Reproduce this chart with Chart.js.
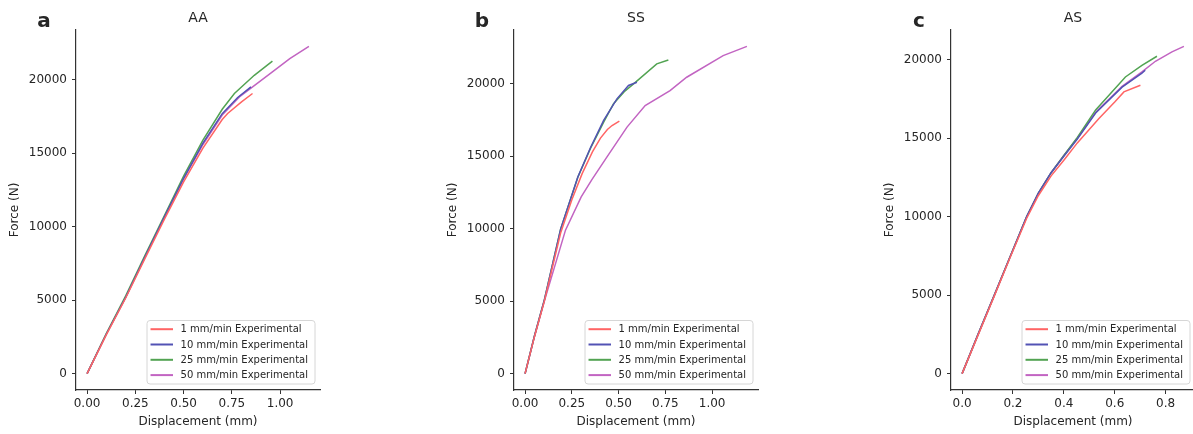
<!DOCTYPE html>
<html lang="en">

<head>
    <meta charset="UTF-8">
    <title>Force vs Displacement</title>
    <style>
        body {
            margin: 0;
            padding: 0;
            width: 1193px;
            height: 434px;
            overflow: hidden;
            background: #ffffff;
            position: relative;
        }

        canvas {
            position: absolute;
            top: 0;
        }
    </style>
</head>

<body>
    <canvas id="chartAA" width="330" height="434" style="left:0px"></canvas>
    <canvas id="chartSS" width="330" height="434" style="left:438px"></canvas>
    <canvas id="chartAS" width="330" height="434" style="left:875px"></canvas>

    <script src="https://cdn.jsdelivr.net/npm/chart.js@4.4.1/dist/chart.umd.min.js"></script>
    <script>
        const seriesLabels = ['1 mm/min Experimental', '10 mm/min Experimental', '25 mm/min Experimental', '50 mm/min Experimental'];
        const seriesColors = ['#ff6464', '#5252b4', '#52a352', '#c264c2'];

        // panel a - AA
        const aaDisp1 = [0, 0.1, 0.2, 0.3, 0.4, 0.5, 0.6, 0.7, 0.728, 0.8, 0.857];
        const aaForce1 = [0, 2650, 5150, 7850, 10500, 13050, 15350, 17300, 17710, 18500, 19070];
        const aaDisp10 = [0, 0.1, 0.2, 0.3, 0.4, 0.5, 0.6, 0.7, 0.78, 0.849];
        const aaForce10 = [0, 2700, 5200, 7950, 10650, 13300, 15700, 17700, 18800, 19520];
        const aaDisp25 = [0, 0.1, 0.2, 0.3, 0.4, 0.5, 0.6, 0.7, 0.763, 0.866, 0.96];
        const aaForce25 = [0, 2750, 5300, 8050, 10750, 13450, 15900, 18000, 19070, 20310, 21280];
        const aaDisp50 = [0, 0.1, 0.2, 0.3, 0.4, 0.5, 0.6, 0.7, 0.789, 0.96, 1.05, 1.149];
        const aaForce50 = [0, 2700, 5200, 7950, 10600, 13250, 15600, 17600, 18840, 20540, 21450, 22280];

        // panel b - SS
        const ssDisp1 = [0, 0.05, 0.103, 0.19, 0.25, 0.305, 0.36, 0.403, 0.44, 0.465, 0.504];
        const ssForce1 = [0, 2550, 5000, 9700, 12000, 13800, 15300, 16250, 16850, 17120, 17420];
        const ssDisp10 = [0, 0.05, 0.103, 0.19, 0.282, 0.35, 0.42, 0.491, 0.553, 0.598];
        const ssForce10 = [0, 2600, 5090, 9970, 13570, 15600, 17470, 18960, 19880, 20100];
        const ssDisp25 = [0, 0.05, 0.103, 0.19, 0.282, 0.35, 0.42, 0.473, 0.53, 0.58, 0.704, 0.766];
        const ssForce25 = [0, 2600, 5090, 9970, 13550, 15550, 17350, 18620, 19450, 19990, 21370, 21640];
        const ssDisp50 = [0, 0.05, 0.103, 0.216, 0.3, 0.358, 0.438, 0.545, 0.642, 0.775, 0.864, 1.059, 1.186];
        const ssForce50 = [0, 2550, 5000, 9900, 12200, 13400, 14950, 17010, 18500, 19530, 20450, 21940, 22580];

        // panel c - AS
        const asDisp1 = [0, 0.064, 0.128, 0.19, 0.254, 0.3, 0.35, 0.4, 0.453, 0.538, 0.6, 0.636, 0.701];
        const asForce1 = [0, 2500, 5000, 7450, 9900, 11350, 12600, 13600, 14700, 16250, 17300, 17950, 18370];
        const asDisp10 = [0, 0.064, 0.128, 0.19, 0.254, 0.3, 0.35, 0.4, 0.453, 0.525, 0.629, 0.707, 0.72];
        const asForce10 = [0, 2550, 5050, 7500, 10000, 11500, 12800, 13850, 14950, 16600, 18250, 19150, 19330];
        const asDisp25 = [0, 0.064, 0.128, 0.19, 0.254, 0.3, 0.35, 0.4, 0.453, 0.525, 0.642, 0.707, 0.766];
        const asForce25 = [0, 2550, 5050, 7500, 10000, 11500, 12800, 13900, 15050, 16800, 18900, 19640, 20220];
        const asDisp50 = [0, 0.064, 0.128, 0.19, 0.254, 0.3, 0.35, 0.4, 0.453, 0.525, 0.629, 0.707, 0.76, 0.825, 0.872];
        const asForce50 = [0, 2550, 5050, 7500, 10000, 11500, 12800, 13900, 15000, 16650, 18300, 19220, 19900, 20500, 20850];

        const xTicksAA = [0, 0.25, 0.5, 0.75, 1.0];
        const xTicksSS = [0, 0.25, 0.5, 0.75, 1.0];
        const xTicksAS = [0, 0.2, 0.4, 0.6, 0.8];
        const yTicks = [0, 5000, 10000, 15000, 20000];

        Chart.defaults.font.family = "'DejaVu Sans', sans-serif";
        const textColor = '#262626';
        const axisColor = '#333333';

        function toPoints(xs, ys) {
            return xs.map((x, i) => ({ x: x, y: ys[i] }));
        }

        // matplotlib style 5% margins
        function paddedRange(arrays) {
            const all = arrays.flat();
            const lo = Math.min(...all), hi = Math.max(...all);
            const pad = (hi - lo) * 0.05;
            return [lo - pad, hi + pad];
        }

        // panel letter, title and the legend in the lower right of the plot area
        const panelDecor = {
            id: 'panelDecor',
            afterDraw(chart, args, opts) {
                const ctx = chart.ctx;
                const area = chart.chartArea;
                ctx.save();
                ctx.fillStyle = textColor;
                ctx.textAlign = 'center';
                ctx.textBaseline = 'alphabetic';
                ctx.font = "bold 20px 'DejaVu Sans'";
                ctx.fillText(opts.letter, area.left - 32, 27);
                ctx.font = "14px 'DejaVu Sans'";
                ctx.fillText(opts.title, (area.left + area.right) / 2, 22);

                ctx.font = "10px 'DejaVu Sans'";
                const sets = chart.data.datasets;
                const textW = Math.max(...sets.map(d => ctx.measureText(d.label).width));
                const boxW = 33.5 + textW + 7;
                const boxH = 63.5;
                const bx = area.right - 5 - boxW;
                const by = area.bottom - 6 - boxH;
                ctx.beginPath();
                ctx.roundRect(bx, by, boxW, boxH, 3);
                ctx.fillStyle = 'rgba(255,255,255,0.8)';
                ctx.fill();
                ctx.strokeStyle = '#d6d6d6';
                ctx.lineWidth = 1;
                ctx.stroke();
                ctx.textAlign = 'left';
                ctx.textBaseline = 'middle';
                sets.forEach((d, i) => {
                    const ry = by + 8.7 + i * 15.3;
                    ctx.beginPath();
                    ctx.moveTo(bx + 3.5, ry);
                    ctx.lineTo(bx + 26, ry);
                    ctx.strokeStyle = d.borderColor;
                    ctx.lineWidth = 2;
                    ctx.stroke();
                    ctx.fillStyle = textColor;
                    ctx.fillText(d.label, bx + 33.5, ry + 0.5);
                });
                ctx.restore();
            }
        };

        function makePanel(id, letter, title, dispArrays, forceArrays, xTicks, decimals) {
            const [xMin, xMax] = paddedRange(dispArrays);
            const [yMin, yMax] = paddedRange(forceArrays);
            const datasets = dispArrays.map((xs, i) => ({
                label: seriesLabels[i],
                data: toPoints(xs, forceArrays[i]),
                borderColor: seriesColors[i],
                borderWidth: 1.5,
                pointRadius: 0,
                tension: 0,
                fill: false
            }));

            new Chart(document.getElementById(id), {
                type: 'line',
                data: { datasets: datasets },
                options: {
                    responsive: false,
                    animation: false,
                    layout: { padding: { top: 30, right: 10, left: 0, bottom: 0 } },
                    plugins: {
                        legend: { display: false },
                        tooltip: { enabled: false },
                        panelDecor: { letter: letter, title: title }
                    },
                    scales: {
                        x: {
                            type: 'linear',
                            min: xMin,
                            max: xMax,
                            afterBuildTicks: s => { s.ticks = xTicks.map(v => ({ value: v })); },
                            afterFit: s => { s.height = 44; },
                            ticks: {
                                callback: v => v.toFixed(decimals),
                                font: { size: 12 },
                                color: textColor,
                                padding: 3,
                                maxRotation: 0,
                                autoSkip: false
                            },
                            grid: { drawOnChartArea: false, drawTicks: true, tickLength: 4, color: axisColor, tickColor: axisColor },
                            border: { display: true, color: axisColor, width: 1.2 },
                            title: {
                                display: true,
                                text: 'Displacement (mm)',
                                font: { size: 12 },
                                color: textColor,
                                padding: { top: 0, bottom: 5 }
                            }
                        },
                        y: {
                            type: 'linear',
                            min: yMin,
                            max: yMax,
                            afterBuildTicks: s => { s.ticks = yTicks.map(v => ({ value: v })); },
                            afterFit: s => { s.width = 76; },
                            ticks: {
                                callback: v => String(v),
                                font: { size: 12 },
                                color: textColor,
                                padding: 5,
                                autoSkip: false
                            },
                            grid: { drawOnChartArea: false, drawTicks: true, tickLength: 4, color: axisColor, tickColor: axisColor },
                            border: { display: true, color: axisColor, width: 1.2 },
                            title: {
                                display: true,
                                text: 'Force (N)',
                                font: { size: 12 },
                                color: textColor,
                                padding: { top: 8, bottom: 0 }
                            }
                        }
                    }
                },
                plugins: [panelDecor]
            });
        }

        makePanel('chartAA', 'a', 'AA',
            [aaDisp1, aaDisp10, aaDisp25, aaDisp50],
            [aaForce1, aaForce10, aaForce25, aaForce50], xTicksAA, 2);
        makePanel('chartSS', 'b', 'SS',
            [ssDisp1, ssDisp10, ssDisp25, ssDisp50],
            [ssForce1, ssForce10, ssForce25, ssForce50], xTicksSS, 2);
        makePanel('chartAS', 'c', 'AS',
            [asDisp1, asDisp10, asDisp25, asDisp50],
            [asForce1, asForce10, asForce25, asForce50], xTicksAS, 1);
    </script>
</body>

</html>
